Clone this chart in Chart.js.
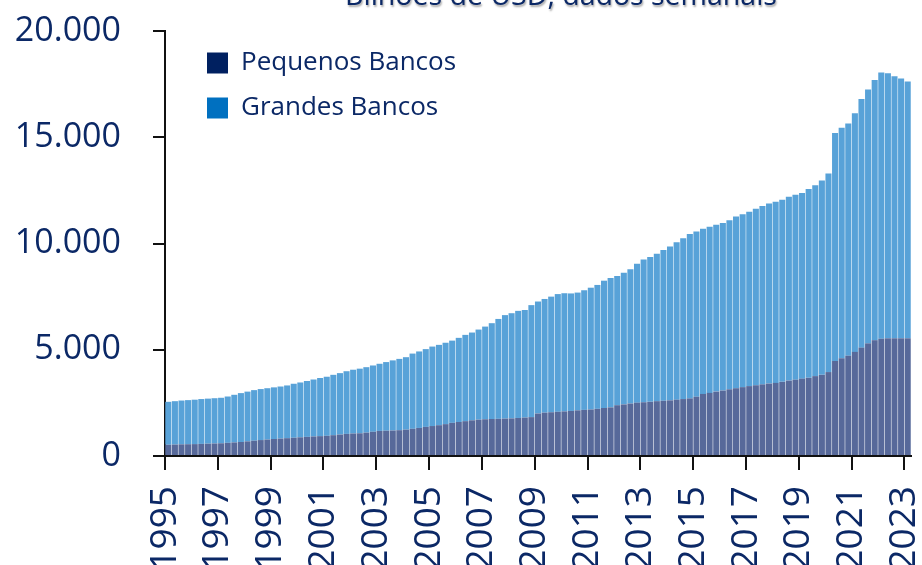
<!DOCTYPE html>
<html>
<head>
<meta charset="utf-8">
<script src="https://cdn.jsdelivr.net/npm/chart.js@4.4.1/dist/chart.umd.min.js"></script>
<style>
  html, body { margin: 0; padding: 0; background: #fff; overflow: hidden; }
  #grafico { display: block; }
</style>
</head>
<body>
<canvas id="grafico" width="922" height="565"></canvas>
<script>
// Depositos dos bancos, bilhoes de USD (leitura trimestral do grafico, 1995T1 .. 2023T1)
const titulo = 'Bilhões de USD, dados semanais';
const anoInicial = 1995;
const rotulosAnos = [1995, 1997, 1999, 2001, 2003, 2005, 2007, 2009, 2011, 2013, 2015, 2017, 2019, 2021, 2023];
const ticksY = [0, 5000, 10000, 15000, 20000];

const pequenosBancos = [
  530, 540, 550, 555,   560, 570, 580, 590,   600, 620, 640, 660,   690, 720, 750, 775,
  800, 820, 840, 860,   880, 900, 920, 935,   950, 980, 1010, 1040, 1060, 1070, 1100, 1140,
  1180, 1190, 1200, 1215, 1240, 1280, 1320, 1370, 1410, 1450, 1500, 1560, 1600, 1640, 1680, 1710,
  1730, 1740, 1750, 1760, 1770, 1790, 1810, 1830, 2000, 2040, 2060, 2080, 2100, 2120, 2150, 2170,
  2190, 2220, 2260, 2290, 2390, 2430, 2470, 2510, 2530, 2550, 2580, 2600, 2620, 2650, 2680, 2710,
  2790, 2920, 2970, 3030, 3080, 3140, 3190, 3240, 3290, 3330, 3370, 3410, 3440, 3490, 3550, 3590,
  3640, 3680, 3760, 3820, 3950, 4470, 4600, 4720, 4900, 5100, 5300, 5450, 5520, 5540, 5540, 5540,
  5540
];
const grandesBancos = [
  2020, 2040, 2060, 2075, 2090, 2110, 2120, 2130, 2140, 2180, 2240, 2300, 2340, 2380, 2400, 2415,
  2430, 2450, 2480, 2540, 2580, 2630, 2680, 2735, 2780, 2840, 2890, 2950, 3000, 3040, 3080, 3120,
  3160, 3230, 3300, 3355, 3410, 3540, 3600, 3660, 3740, 3780, 3830, 3870, 3960, 4060, 4130, 4240,
  4360, 4510, 4700, 4870, 4950, 5040, 5060, 5270, 5270, 5350, 5440, 5540, 5560, 5530, 5540, 5630,
  5730, 5830, 5990, 6090, 6080, 6190, 6320, 6540, 6720, 6820, 6940, 7100, 7240, 7410, 7570, 7740,
  7770, 7780, 7820, 7850, 7880, 7960, 8080, 8140, 8210, 8310, 8390, 8470, 8530, 8570, 8650, 8700,
  8740, 8880, 8980, 9140, 9350, 10730, 10850, 10930, 11230, 11700, 11950, 12250, 12530, 12470, 12330, 12220,
  12080
];

const corPequenos = '#002060';
const corGrandes = '#0070c0';
const corTexto = '#0b2866';
const fonte = "'Open Sans', 'Noto Sans', sans-serif";

// inicio de cada trimestre
const periodos = [];
for (let i = 0; i < pequenosBancos.length; i++) {
  periodos.push(anoInicial + i / 4);
}

var formatMilhar = function (v) {
  return v.toString().replace(/\B(?=(\d{3})+(?!\d))/g, '.');
};

// sem folga automatica para os rotulos: a area fica onde o original a tem
var semFolga = function (scale) {
  scale.paddingTop = 0;
  scale.paddingBottom = 0;
  scale.paddingLeft = 0;
  scale.paddingRight = 0;
};

// titulo cortado no topo, com sombra
const tituloSombra = {
  id: 'tituloSombra',
  afterDraw(chart) {
    const ctx = chart.ctx;
    ctx.save();
    ctx.font = '28.5px ' + fonte;
    ctx.fillStyle = corTexto;
    ctx.textAlign = 'center';
    ctx.textBaseline = 'alphabetic';
    ctx.shadowColor = 'rgba(0, 0, 0, 0.35)';
    ctx.shadowOffsetX = 1;
    ctx.shadowOffsetY = 2;
    ctx.shadowBlur = 2;
    ctx.fillText(titulo, 561, 5);
    ctx.restore();
  }
};

// legenda dentro da area, um pouco afastada do eixo
const legendaDeslocada = {
  id: 'legendaDeslocada',
  afterLayout(chart) {
    const lg = chart.legend;
    if (lg) {
      const h = lg.bottom - lg.top;
      lg.left = chart.chartArea.left + 23;
      lg.top = chart.chartArea.top;
      lg.bottom = lg.top + h;
    }
  }
};

new Chart(document.getElementById('grafico'), {
  type: 'bar',
  data: {
    datasets: [
      {
        label: 'Pequenos Bancos',
        data: periodos.map((p, i) => ({ x: p + 0.125, y: pequenosBancos[i] })),
        backgroundColor: '#57699a',
        borderWidth: 0,
        categoryPercentage: 1,
        barPercentage: 0.92
      },
      {
        label: 'Grandes Bancos',
        data: periodos.map((p, i) => ({ x: p + 0.125, y: grandesBancos[i] })),
        backgroundColor: '#58a2d8',
        borderWidth: 0,
        categoryPercentage: 1,
        barPercentage: 0.92
      }
    ]
  },
  options: {
    responsive: false,
    animation: false,
    devicePixelRatio: 1,
    layout: {
      autoPadding: false,
      padding: { top: 31, right: 11, bottom: 0, left: 0 }
    },
    scales: {
      x: {
        type: 'linear',
        stacked: true,
        offset: false,
        min: 1995,
        max: 2023.25,
        afterBuildTicks: function (axis) {
          axis.ticks = rotulosAnos.map(v => ({ value: v }));
        },
        afterFit: function (scale) {
          scale.height = 109;
          semFolga(scale);
        },
        grid: {
          offset: false,
          drawOnChartArea: false,
          drawTicks: true,
          tickLength: 14,
          color: '#111',
          lineWidth: 2
        },
        border: { display: true, color: '#111', width: 2 },
        ticks: {
          autoSkip: false,
          minRotation: 90,
          maxRotation: 90,
          padding: 16,
          color: corTexto,
          font: { family: fonte, size: 37 },
          callback: function (v) { return String(v); }
        }
      },
      y: {
        stacked: true,
        min: 0,
        max: 20000,
        afterBuildTicks: function (axis) {
          axis.ticks = ticksY.map(v => ({ value: v }));
        },
        afterFit: function (scale) {
          scale.width = 165;
          semFolga(scale);
        },
        grid: {
          drawOnChartArea: false,
          drawTicks: true,
          tickLength: 12,
          color: '#111',
          lineWidth: 2
        },
        border: { display: true, color: '#111', width: 2 },
        ticks: {
          padding: 32,
          color: corTexto,
          font: { family: fonte, size: 34 },
          callback: function (v) { return formatMilhar(v); }
        }
      }
    },
    plugins: {
      tooltip: { enabled: false },
      title: { display: false },
      legend: {
        position: 'chartArea',
        align: 'start',
        labels: {
          boxWidth: 21,
          boxHeight: 21,
          padding: 19,
          color: corTexto,
          font: { family: fonte, size: 26 },
          generateLabels: function (chart) {
            const itens = Chart.defaults.plugins.legend.labels.generateLabels(chart);
            const cores = [corPequenos, corGrandes];
            itens.forEach(function (item, i) {
              item.fillStyle = cores[i];
              item.strokeStyle = cores[i];
              item.lineWidth = 0;
            });
            return itens;
          }
        }
      }
    }
  },
  plugins: [tituloSombra, legendaDeslocada]
});
</script>
</body>
</html>
